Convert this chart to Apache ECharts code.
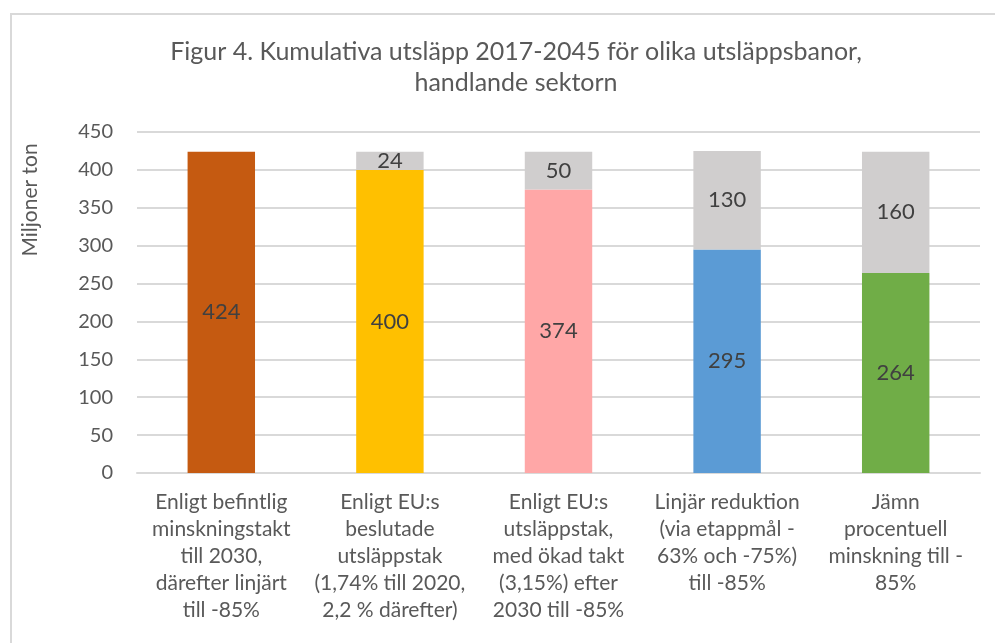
<!DOCTYPE html>
<html>
<head>
<meta charset="utf-8">
<script src="https://cdn.jsdelivr.net/npm/echarts@6/dist/echarts.min.js"></script>
<style>
  html, body { margin: 0; padding: 0; background: #fff; }
  #frame { position: absolute; left: 10px; top: 13px; width: 1000px; height: 700px; border: 2px solid #d9d9d9; box-sizing: border-box; }
  #chart { position: absolute; left: 0; top: 0; width: 995px; height: 643px; }
</style>
</head>
<body>
<div id="frame"></div>
<div id="chart"></div>
<script>
// kategorier (utsläppsbanor)
const categories = [
  'Enligt befintlig\nminskningstakt\ntill 2030,\ndärefter linjärt\ntill -85%',
  'Enligt EU:s\nbeslutade\nutsläppstak\n(1,74% till 2020,\n2,2 % därefter)',
  'Enligt EU:s\nutsläppstak,\nmed ökad takt\n(3,15%) efter\n2030 till -85%',
  'Linjär reduktion\n(via etappmål -\n63% och -75%)\ntill -85%',
  'Jämn\nprocentuell\nminskning till -\n85%'
];
const utslapp = [424, 400, 374, 295, 264];   // kumulativa utsläpp, Mt
const skillnad = [0, 24, 50, 130, 160];      // grå del upp till 424
const barColors = ['#C55A11', '#FFC000', '#FFA7A7', '#5B9BD5', '#70AD47'];
const yTicks = [0, 50, 100, 150, 200, 250, 300, 350, 400, 450];

const font = 'Lato, "Open Sans", sans-serif';
const chart = echarts.init(document.getElementById('chart'));

const option = {
  backgroundColor: 'transparent',
  title: {
    text: 'Figur 4. Kumulativa utsläpp 2017-2045 för olika utsläppsbanor,\nhandlande sektorn',
    left: 511,
    top: 31,
    textAlign: 'center',
    textStyle: { fontFamily: font, fontSize: 25, fontWeight: 'normal', color: '#595959', lineHeight: 31 }
  },
  grid: { left: 137, right: 15, top: 132, bottom: 170 },
  xAxis: {
    type: 'category',
    data: categories,
    axisTick: { show: false },
    axisLine: { lineStyle: { color: '#d9d9d9', width: 2 } },
    axisLabel: {
      interval: 0, margin: 16,
      fontFamily: font, fontSize: 21, color: '#595959', lineHeight: 27
    }
  },
  yAxis: {
    type: 'value',
    min: yTicks[0],
    max: yTicks[yTicks.length - 1],
    interval: 50,
    axisLine: { show: false },
    axisTick: { show: false },
    splitLine: { lineStyle: { color: '#d9d9d9', width: 2 } },
    axisLabel: { margin: 24, fontFamily: font, fontSize: 20, color: '#595959' }
  },
  graphic: [{
    type: 'text',
    x: 30, y: 200,
    rotation: Math.PI / 2,
    style: {
      text: 'Miljoner ton',
      x: 0, y: 0,
      textAlign: 'center', textVerticalAlign: 'middle',
      font: '21px ' + font,
      fill: '#595959'
    }
  }],
  series: [
    {
      name: 'Utsläpp',
      type: 'bar',
      stack: 'tot',
      barWidth: '40%',
      data: utslapp.map((v, i) => ({ value: v, itemStyle: { color: barColors[i] } })),
      label: { show: true, position: 'inside', fontFamily: font, fontSize: 22, color: '#404040' }
    },
    {
      name: 'Skillnad',
      type: 'bar',
      stack: 'tot',
      barWidth: '40%',
      itemStyle: { color: '#D0CECE' },
      data: skillnad,
      label: {
        show: true, position: 'inside', fontFamily: font, fontSize: 22, color: '#404040',
        formatter: p => (p.value ? p.value : '')
      }
    }
  ]
};
chart.setOption(option);
</script>
</body>
</html>
